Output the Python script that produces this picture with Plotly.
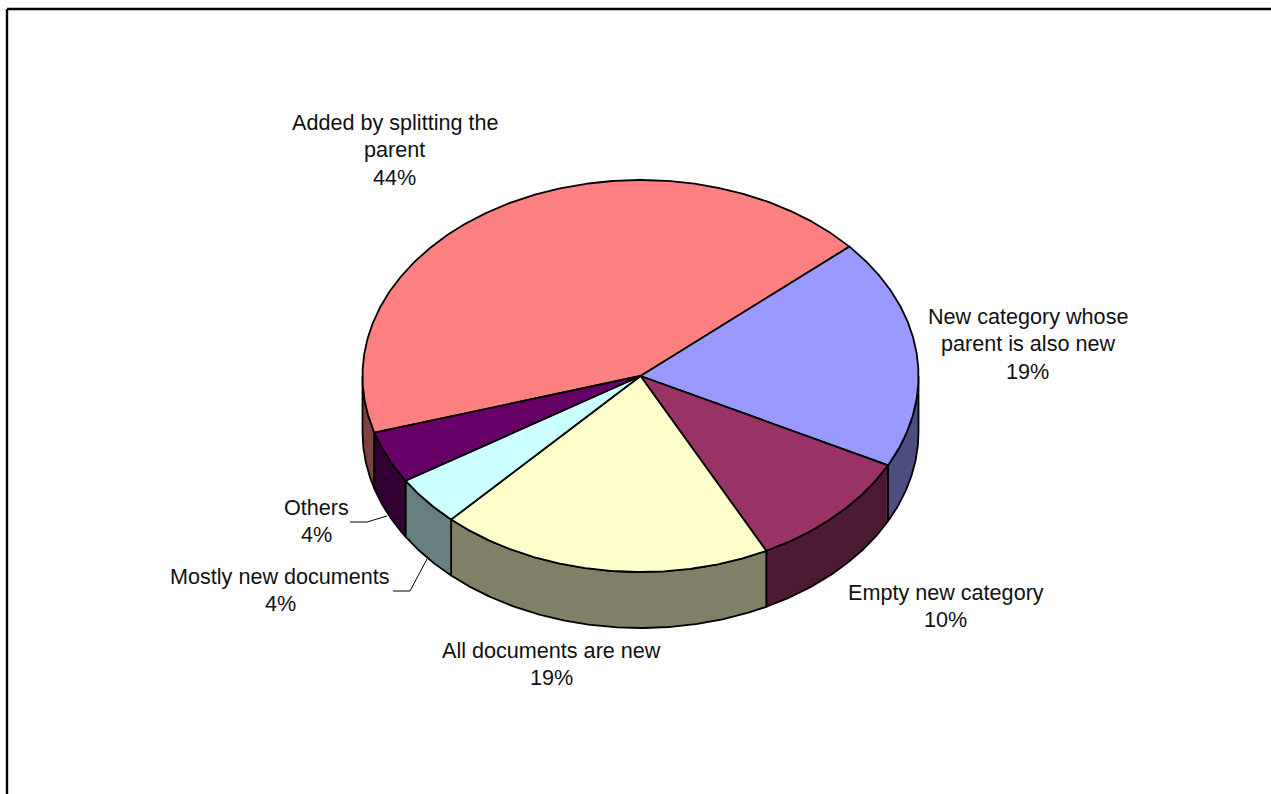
import numpy as np
import plotly.graph_objects as go

# Data
categories = ["Added by splitting the parent", "New category whose parent is also new",
              "Empty new category", "All documents are new", "Mostly new documents", "Others"]
values = [43.2, 19.0, 10.0, 19.4, 4.1, 4.3]
percent_labels = ["44%", "19%", "10%", "19%", "4%", "4%"]
label_lines = [["Added by splitting the", "parent"], ["New category whose", "parent is also new"],
               ["Empty new category"], ["All documents are new"], ["Mostly new documents"], ["Others"]]
top_colors = ["#FF8080", "#9999FF", "#993366", "#FFFFCC", "#CCFFFF", "#660066"]
wall_colors = ["#804040", "#4D4D80", "#4D1A33", "#808066", "#668080", "#330033"]

# Drawing geometry (pixel-like layout coordinates)
W, H = 1271, 794
CX, CY, RX, RY, DEPTH = 640.5, 376, 278, 196, 56
BLUE_START = 48.7  # clockwise degrees from 12 o'clock where the second slice starts
label_pos = [(394.5, 122), (1027.5, 316), (945.5, 592), (551.5, 650), (280, 576), (316, 507)]
LINE_STEP = 27.6
leaders = [([393, 410, 427], [591, 591, 559]), ([350, 367, 387], [522, 522, 516])]
EDGE = dict(color="black", width=1.8)


def rim(a0, a1, dy=0.0):
    a = np.radians(np.linspace(a0, a1, max(2, int(abs(a1 - a0) * 2) + 1)))
    return CX + RX * np.sin(a), CY - RY * np.cos(a) + dy


total = sum(values)
spans = [v / total * 360 for v in values]
start = BLUE_START - spans[0]
edges = [start + s for s in np.concatenate([[0], np.cumsum(spans)])]

fig = go.Figure()


def poly(xs, ys, color, name):
    fig.add_trace(go.Scatter(x=xs, y=ys, mode="lines", fill="toself", fillcolor=color,
                             line=EDGE, hoverinfo="skip", name=name, showlegend=False))


# Outer walls: only the front half of the rim (90..270 degrees clockwise) is visible
for name, a0, a1, col in zip(categories, edges[:-1], edges[1:], wall_colors):
    for shift in (0, 360, -360):
        lo, hi = max(a0 + shift, 90), min(a1 + shift, 270)
        if hi > lo:
            xt, yt = rim(lo, hi)
            xb, yb = rim(hi, lo, DEPTH)
            poly(list(xt) + list(xb) + [xt[0]], list(yt) + list(yb) + [yt[0]], col, name)

# Top face
for name, a0, a1, col in zip(categories, edges[:-1], edges[1:], top_colors):
    xt, yt = rim(a0, a1)
    poly([CX] + list(xt) + [CX], [CY] + list(yt) + [CY], col, name)

# Leader lines
for lx, ly in leaders:
    fig.add_trace(go.Scatter(x=lx, y=ly, mode="lines", line=dict(color="black", width=1),
                             hoverinfo="skip", showlegend=False))

# Labels
annotations = []
for lines, pct, (lx, ly) in zip(label_lines, percent_labels, label_pos):
    for i, t in enumerate(lines + [pct]):
        annotations.append(dict(x=lx, y=ly + i * LINE_STEP, text=t, showarrow=False,
                                xanchor="center", yanchor="middle",
                                font=dict(family="Liberation Sans, Arial, sans-serif", size=21.6, color="#111111")))

# Frame: only top and left edges show inside the picture
shapes = [dict(type="line", x0=7, y0=9, x1=W, y1=9, line=dict(color="black", width=2.4)),
          dict(type="line", x0=7, y0=9, x1=7, y1=H, line=dict(color="black", width=2.4))]

fig.update_layout(width=W, height=H, margin=dict(l=0, r=0, t=0, b=0),
                  paper_bgcolor="white", plot_bgcolor="white", showlegend=False,
                  xaxis=dict(range=[0, W], visible=False, fixedrange=True),
                  yaxis=dict(range=[H, 0], visible=False, fixedrange=True),
                  annotations=annotations, shapes=shapes)
fig.write_html("out.html", config=dict(displayModeBar=False),
               post_script="document.body.style.margin='0';document.body.style.overflow='hidden';")
